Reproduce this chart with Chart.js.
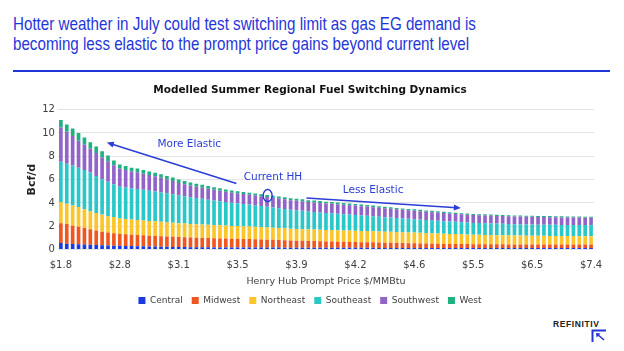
<!DOCTYPE html>
<html>
<head>
<meta charset="utf-8">
<script src="https://cdn.jsdelivr.net/npm/chart.js@4.4.1/dist/chart.umd.min.js"></script>
<style>
  body { margin: 0; width: 624px; height: 351px; background: #fff; overflow: hidden; position: relative; }
  #head { position: absolute; left: 13px; top: 14px; color: #1f36d9; font-family: "Liberation Sans", Arial, sans-serif; font-size: 18.5px; line-height: 20px; white-space: nowrap; transform: scaleX(0.82); transform-origin: left top; }
  #rule { position: absolute; left: 13px; top: 70px; width: 597px; height: 2px; background: #1f36d9; }
  #wrap { position: absolute; left: 0; top: 78px; width: 624px; height: 240px; }
  #logo { position: absolute; left: 553px; top: 319px; font-family: "Liberation Sans", Arial, sans-serif; font-weight: bold; font-size: 8.5px; letter-spacing: 0.6px; color: #222; }
  #mark { position: absolute; left: 591px; top: 329px; }
</style>
</head>
<body>
<div id="head">Hotter weather in July could test switching limit as gas EG demand is<br>becoming less elastic to the prompt price gains beyond current level</div>
<div id="rule"></div>
<div id="wrap"><canvas id="chart"></canvas></div>
<div id="logo">REFINITIV</div>
<svg id="mark" width="16" height="14" viewBox="0 0 16 14">
  <path d="M1.5 13 V1.5 H15" stroke="#2236d8" stroke-width="2" fill="none"/>
  <path d="M6 5 L13 11" stroke="#2236d8" stroke-width="1.6" fill="none"/>
  <path d="M5 4 L9.5 4.6 L5.6 8.5 Z" fill="#2236d8"/>
</svg>
<script>
// x ticks shown every 10th bar
const priceTicks = ['$1.8', '$2.8', '$3.1', '$3.5', '$3.9', '$4.2', '$4.6', '$5.5', '$6.5', '$7.4'];

const central = [0.56, 0.50, 0.48, 0.46, 0.44, 0.42, 0.40, 0.38, 0.36, 0.34,
  0.32, 0.31, 0.30, 0.29, 0.28, 0.27, 0.26, 0.25, 0.24, 0.23,
  0.22, 0.22, 0.21, 0.21, 0.20, 0.20, 0.19, 0.19, 0.19, 0.18,
  0.18, 0.18, 0.18, 0.17, 0.17, 0.17, 0.17, 0.17, 0.16, 0.16,
  0.16, 0.16, 0.16, 0.16, 0.16, 0.15, 0.15, 0.15, 0.15, 0.15,
  0.15, 0.15, 0.15, 0.15, 0.14, 0.14, 0.14, 0.14, 0.14, 0.14,
  0.14, 0.14, 0.14, 0.14, 0.13, 0.13, 0.13, 0.13, 0.13, 0.13,
  0.13, 0.13, 0.13, 0.13, 0.13, 0.13, 0.13, 0.13, 0.13, 0.13,
  0.13, 0.13, 0.13, 0.13, 0.13, 0.13, 0.13, 0.13, 0.13, 0.13, 0.13];
const midwest = [1.69, 1.69, 1.57, 1.50, 1.44, 1.32, 1.23, 1.16, 1.10, 1.06,
  1.02, 1.00, 0.98, 0.96, 0.94, 0.92, 0.91, 0.90, 0.88, 0.87,
  0.85, 0.84, 0.82, 0.81, 0.80, 0.79, 0.78, 0.77, 0.76, 0.75,
  0.74, 0.73, 0.72, 0.71, 0.70, 0.68, 0.67, 0.65, 0.64, 0.62,
  0.60, 0.59, 0.58, 0.57, 0.56, 0.55, 0.54, 0.53, 0.52, 0.51,
  0.50, 0.49, 0.48, 0.47, 0.46, 0.45, 0.44, 0.43, 0.42, 0.41,
  0.40, 0.39, 0.38, 0.37, 0.37, 0.36, 0.35, 0.35, 0.34, 0.34,
  0.33, 0.33, 0.33, 0.32, 0.32, 0.32, 0.31, 0.31, 0.31, 0.30,
  0.30, 0.30, 0.30, 0.30, 0.30, 0.30, 0.30, 0.30, 0.30, 0.30, 0.30];
const northeast = [1.82, 1.74, 1.74, 1.69, 1.57, 1.54, 1.51, 1.46, 1.40, 1.40,
  1.33, 1.31, 1.30, 1.29, 1.28, 1.27, 1.25, 1.23, 1.22, 1.20,
  1.18, 1.17, 1.16, 1.15, 1.15, 1.14, 1.13, 1.12, 1.11, 1.10,
  1.10, 1.09, 1.08, 1.07, 1.06, 1.05, 1.04, 1.03, 1.02, 1.01,
  1.00, 1.00, 0.99, 0.99, 0.99, 0.98, 0.98, 0.98, 0.97, 0.97,
  0.97, 0.96, 0.96, 0.95, 0.95, 0.94, 0.94, 0.93, 0.93, 0.92,
  0.92, 0.91, 0.90, 0.89, 0.88, 0.87, 0.86, 0.85, 0.84, 0.83,
  0.82, 0.81, 0.80, 0.80, 0.79, 0.78, 0.78, 0.77, 0.77, 0.76,
  0.76, 0.75, 0.75, 0.74, 0.74, 0.73, 0.73, 0.73, 0.72, 0.72, 0.72];
const southeast = [3.45, 3.42, 3.42, 3.36, 3.37, 3.32, 3.16, 3.04, 2.95, 2.81,
  2.72, 2.70, 2.67, 2.66, 2.62, 2.58, 2.55, 2.52, 2.49, 2.45,
  2.40, 2.35, 2.30, 2.25, 2.20, 2.15, 2.10, 2.06, 2.02, 1.98,
  1.95, 1.91, 1.88, 1.84, 1.80, 1.77, 1.73, 1.70, 1.67, 1.63,
  1.60, 1.57, 1.54, 1.51, 1.48, 1.46, 1.44, 1.42, 1.40, 1.37,
  1.35, 1.33, 1.31, 1.29, 1.27, 1.25, 1.23, 1.21, 1.19, 1.17,
  1.15, 1.14, 1.12, 1.11, 1.09, 1.08, 1.06, 1.05, 1.03, 1.02,
  1.01, 1.00, 1.00, 0.99, 0.99, 0.98, 0.98, 0.97, 0.97, 0.97,
  0.96, 0.96, 0.96, 0.96, 0.95, 0.95, 0.95, 0.95, 0.95, 0.95, 0.94];
const southwest = [2.95, 2.75, 2.53, 2.31, 2.16, 2.05, 1.98, 1.88, 1.77, 1.63,
  1.57, 1.50, 1.45, 1.43, 1.39, 1.35, 1.31, 1.25, 1.18, 1.12,
  1.05, 1.02, 1.00, 0.98, 0.96, 0.94, 0.92, 0.90, 0.88, 0.87,
  0.85, 0.85, 0.84, 0.84, 0.83, 0.83, 0.83, 0.82, 0.82, 0.82,
  0.82, 0.82, 0.81, 0.81, 0.81, 0.81, 0.81, 0.80, 0.80, 0.80,
  0.80, 0.79, 0.79, 0.78, 0.77, 0.76, 0.75, 0.74, 0.73, 0.73,
  0.72, 0.71, 0.71, 0.70, 0.70, 0.69, 0.69, 0.68, 0.68, 0.67,
  0.67, 0.67, 0.67, 0.66, 0.66, 0.66, 0.66, 0.66, 0.66, 0.66,
  0.66, 0.66, 0.65, 0.65, 0.65, 0.65, 0.65, 0.65, 0.65, 0.64, 0.64];
const west = [0.63, 0.62, 0.64, 0.68, 0.62, 0.55, 0.56, 0.50, 0.48, 0.40,
  0.34, 0.34, 0.32, 0.32, 0.31, 0.31, 0.30, 0.30, 0.30, 0.30,
  0.30, 0.28, 0.26, 0.25, 0.24, 0.23, 0.22, 0.21, 0.20, 0.19,
  0.18, 0.18, 0.18, 0.18, 0.18, 0.18, 0.18, 0.18, 0.17, 0.17,
  0.17, 0.17, 0.16, 0.16, 0.16, 0.16, 0.15, 0.15, 0.15, 0.15,
  0.14, 0.14, 0.14, 0.13, 0.13, 0.13, 0.13, 0.12, 0.12, 0.12,
  0.12, 0.12, 0.11, 0.11, 0.11, 0.11, 0.11, 0.10, 0.10, 0.10,
  0.10, 0.10, 0.10, 0.10, 0.10, 0.09, 0.09, 0.09, 0.09, 0.09,
  0.09, 0.09, 0.09, 0.09, 0.09, 0.09, 0.08, 0.08, 0.08, 0.08, 0.08];

const regions = ['Central', 'Midwest', 'Northeast', 'Southeast', 'Southwest', 'West'];
const colors = ['#1b3be0', '#f0561f', '#fcc52a', '#2ac7c9', '#9263c9', '#1fb17f'];
const series = [central, midwest, northeast, southeast, southwest, west];

const labels = central.map((v, i) => String(i));
const annoColor = '#2a3dd6';
const font = '"DejaVu Sans", Verdana, sans-serif';

function arrow(ctx, x1, y1, x2, y2) {
  const a = Math.atan2(y2 - y1, x2 - x1);
  ctx.beginPath();
  ctx.moveTo(x1, y1);
  ctx.lineTo(x2 - 4 * Math.cos(a), y2 - 4 * Math.sin(a));
  ctx.stroke();
  ctx.beginPath();
  ctx.moveTo(x2, y2);
  ctx.lineTo(x2 - 7 * Math.cos(a) + 3 * Math.sin(a), y2 - 7 * Math.sin(a) - 3 * Math.cos(a));
  ctx.lineTo(x2 - 7 * Math.cos(a) - 3 * Math.sin(a), y2 - 7 * Math.sin(a) + 3 * Math.cos(a));
  ctx.closePath();
  ctx.fill();
}

// arrows + labels, placed in data units (bar index, Bcf/d)
const callouts = {
  id: 'callouts',
  afterDatasetsDraw(chart) {
    const { ctx, scales: { x, y } } = chart;
    const px = i => x.getPixelForValue(i);
    const py = v => y.getPixelForValue(v);
    ctx.save();
    ctx.strokeStyle = annoColor;
    ctx.fillStyle = annoColor;
    ctx.lineWidth = 1.5;
    arrow(ctx, px(29.8), py(5.66), px(7.8), py(9.17));
    arrow(ctx, px(41.7), py(4.43), px(67.9), py(3.57));
    ctx.beginPath();
    ctx.ellipse(px(35.1), py(4.63), 4.5, 6, 0, 0, Math.PI * 2);
    ctx.stroke();
    ctx.font = '10.5px ' + font;
    ctx.textAlign = 'center';
    ctx.textBaseline = 'middle';
    ctx.fillText('More Elastic', px(21.8), py(9.0));
    ctx.fillText('Current HH', px(36.0), py(6.2));
    ctx.fillText('Less Elastic', px(53.0), py(5.1));
    ctx.restore();
  }
};

new Chart(document.getElementById('chart'), {
  type: 'bar',
  data: {
    labels: labels,
    datasets: regions.map((name, k) => ({
      label: name,
      data: series[k],
      backgroundColor: colors[k],
      barPercentage: 0.62,
      categoryPercentage: 1.0,
    })),
  },
  options: {
    responsive: true,
    maintainAspectRatio: false,
    animation: false,
    layout: { padding: { left: 26, right: 30, bottom: 3 } },
    plugins: {
      tooltip: { enabled: false },
      title: {
        display: true,
        text: 'Modelled Summer Regional Fuel Switching Dynamics',
        color: '#111',
        font: { family: font, size: 10.5, weight: 'bold' },
        padding: { top: 6, bottom: 13 },
      },
      legend: {
        position: 'bottom',
        labels: {
          boxWidth: 7,
          boxHeight: 7,
          padding: 9,
          color: '#404040',
          font: { family: font, size: 9 },
        },
      },
    },
    scales: {
      x: {
        stacked: true,
        grid: { display: false },
        border: { display: false },
        ticks: {
          autoSkip: false,
          maxRotation: 0,
          color: '#404040',
          font: { family: font, size: 10 },
          padding: 2,
          callback: (v, i) => (i % 10 === 0 ? priceTicks[i / 10] : ''),
        },
        title: {
          display: true,
          text: 'Henry Hub Prompt Price $/MMBtu',
          color: '#404040',
          font: { family: font, size: 9.5 },
          padding: { top: 2, bottom: 0 },
        },
      },
      y: {
        stacked: true,
        min: 0,
        max: 12,
        grid: { color: '#e4e4e4', drawTicks: false },
        border: { display: false },
        ticks: {
          stepSize: 2,
          color: '#404040',
          font: { family: font, size: 10 },
          padding: 3,
        },
        title: {
          display: true,
          text: 'Bcf/d',
          color: '#222',
          font: { family: font, size: 11, weight: 'bold' },
          padding: { top: 0, bottom: 0 },
        },
      },
    },
  },
  plugins: [callouts],
});
</script>
</body>
</html>
